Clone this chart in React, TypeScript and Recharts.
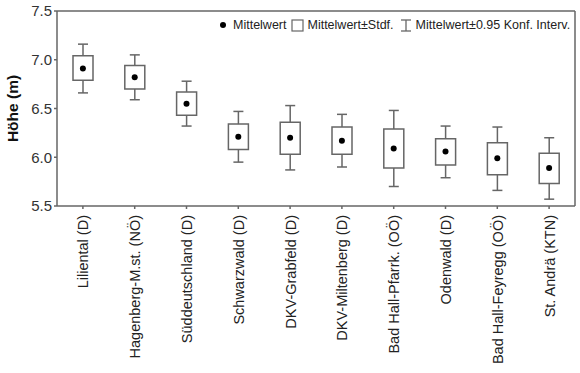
import React from "react";
import {
  ComposedChart,
  Bar,
  Scatter,
  XAxis,
  YAxis,
  ReferenceLine,
} from "recharts";

const categories = [
  "Liliental (D)",
  "Hagenberg-M.st. (NÖ)",
  "Süddeutschland (D)",
  "Schwarzwald (D)",
  "DKV-Grabfeld (D)",
  "DKV-Miltenberg (D)",
  "Bad Hall-Pfarrk. (OÖ)",
  "Odenwald (D)",
  "Bad Hall-Feyregg (OÖ)",
  "St. Andrä (KTN)",
];

const mean = [6.91, 6.82, 6.55, 6.21, 6.2, 6.17, 6.09, 6.06, 5.99, 5.89];
const sdLow = [6.79, 6.7, 6.43, 6.08, 6.03, 6.03, 5.89, 5.92, 5.82, 5.73];
const sdHigh = [7.04, 6.94, 6.67, 6.34, 6.36, 6.31, 6.29, 6.19, 6.15, 6.04];
const ciLow = [6.66, 6.59, 6.32, 5.95, 5.87, 5.9, 5.7, 5.79, 5.66, 5.57];
const ciHigh = [7.16, 7.05, 6.78, 6.47, 6.53, 6.44, 6.48, 6.32, 6.31, 6.2];

const yTicks = [5.5, 6.0, 6.5, 7.0, 7.5];

const data = categories.map((name, i) => ({
  name,
  mean: mean[i],
  sd: [sdLow[i], sdHigh[i]],
  ci: [ciLow[i], ciHigh[i]],
}));

const AXIS = "#666";
const FONT = "Arial, 'Liberation Sans', sans-serif";

// whisker: vertical line with caps, from the bar's own y/height
const Whisker = (props: any) => {
  const { x, y, width, height } = props;
  const cx = x + width / 2;
  const top = Math.min(y, y + height);
  const bottom = Math.max(y, y + height);
  return (
    <g stroke={AXIS} strokeWidth={1.5}>
      <line x1={cx} x2={cx} y1={top} y2={bottom} />
      <line x1={cx - 5} x2={cx + 5} y1={top} y2={top} />
      <line x1={cx - 5} x2={cx + 5} y1={bottom} y2={bottom} />
    </g>
  );
};

const MeanDot = (props: any) => {
  const { cx, cy } = props;
  return <circle cx={cx} cy={cy} r={3} fill="#000" />;
};

const XTick = (props: any) => {
  const { x, y, payload } = props;
  return (
    <text
      x={0}
      y={0}
      transform={`translate(${x + 5.5}, ${y + 4}) rotate(-90)`}
      textAnchor="end"
      fontSize={14.5}
      fontFamily={FONT}
      fill="#222"
    >
      {payload.value}
    </text>
  );
};

const YLabel = (props: any) => {
  const { viewBox } = props;
  const cy = viewBox.y + viewBox.height / 2;
  return (
    <text
      x={0}
      y={0}
      transform={`translate(18, ${cy}) rotate(-90)`}
      textAnchor="middle"
      fontSize={15.5}
      fontWeight="bold"
      fontFamily={FONT}
      fill="#111"
    >
      Höhe (m)
    </text>
  );
};

// Legende oben rechts im Plot
const LegendBox = () => (
  <div
    style={{
      position: "absolute",
      left: 219,
      top: 18,
      display: "flex",
      alignItems: "center",
      fontFamily: FONT,
      fontSize: 12.5,
      color: "#222",
      whiteSpace: "nowrap",
    }}
  >
    <svg width={8} height={8} style={{ marginRight: 6 }}>
      <circle cx={4} cy={4} r={3} fill="#000" />
    </svg>
    <span>Mittelwert</span>
    <svg width={13} height={13} style={{ margin: "0 3px 0 5px" }}>
      <rect x={1} y={1} width={11} height={11} fill="#fff" stroke={AXIS} strokeWidth={1.2} />
    </svg>
    <span>Mittelwert±Stdf.</span>
    <svg width={12} height={13} style={{ margin: "0 4px 0 6px" }}>
      <g stroke={AXIS} strokeWidth={1.3}>
        <line x1={6} x2={6} y1={1} y2={12} />
        <line x1={1} x2={11} y1={1} y2={1} />
        <line x1={1} x2={11} y1={12} y2={12} />
      </g>
    </svg>
    <span>Mittelwert±0.95 Konf. Interv.</span>
  </div>
);

export default function App() {
  return (
    <div style={{ position: "absolute", left: 0, top: 0, width: 580, height: 373, background: "#fff" }}>
      <ComposedChart
        width={580}
        height={373}
        data={data}
        margin={{ top: 11, right: 5, bottom: 0, left: 0 }}
      >
        <XAxis
          dataKey="name"
          xAxisId="main"
          interval={0}
          height={167}
          stroke={AXIS}
          strokeWidth={1.5}
          tickSize={3}
          tick={<XTick />}
        />
        <XAxis dataKey="name" xAxisId="box" orientation="top" height={0} hide />
        <YAxis
          yAxisId="l"
          width={57}
          domain={[5.5, 7.5]}
          ticks={yTicks}
          allowDataOverflow
          stroke={AXIS}
          strokeWidth={1.5}
          tickSize={3}
          tickFormatter={(v: number) => v.toFixed(1)}
          tick={{ fill: "#333", fontSize: 15, fontFamily: FONT }}
          label={<YLabel />}
        />
        <YAxis
          yAxisId="r"
          orientation="right"
          mirror
          domain={[5.5, 7.5]}
          ticks={yTicks}
          allowDataOverflow
          stroke={AXIS}
          strokeWidth={1.5}
          tickSize={3}
          tick={false}
        />
        <ReferenceLine yAxisId="l" xAxisId="main" y={7.5} stroke={AXIS} strokeWidth={1.5} />
        <Bar
          dataKey="ci"
          xAxisId="main"
          yAxisId="l"
          barSize={20}
          shape={<Whisker />}
          isAnimationActive={false}
        />
        <Bar
          dataKey="sd"
          xAxisId="box"
          yAxisId="l"
          barSize={20}
          fill="#fff"
          stroke={AXIS}
          strokeWidth={1.5}
          isAnimationActive={false}
        />
        <Scatter
          dataKey="mean"
          xAxisId="main"
          yAxisId="l"
          shape={<MeanDot />}
          isAnimationActive={false}
        />
      </ComposedChart>
      <LegendBox />
    </div>
  );
}
